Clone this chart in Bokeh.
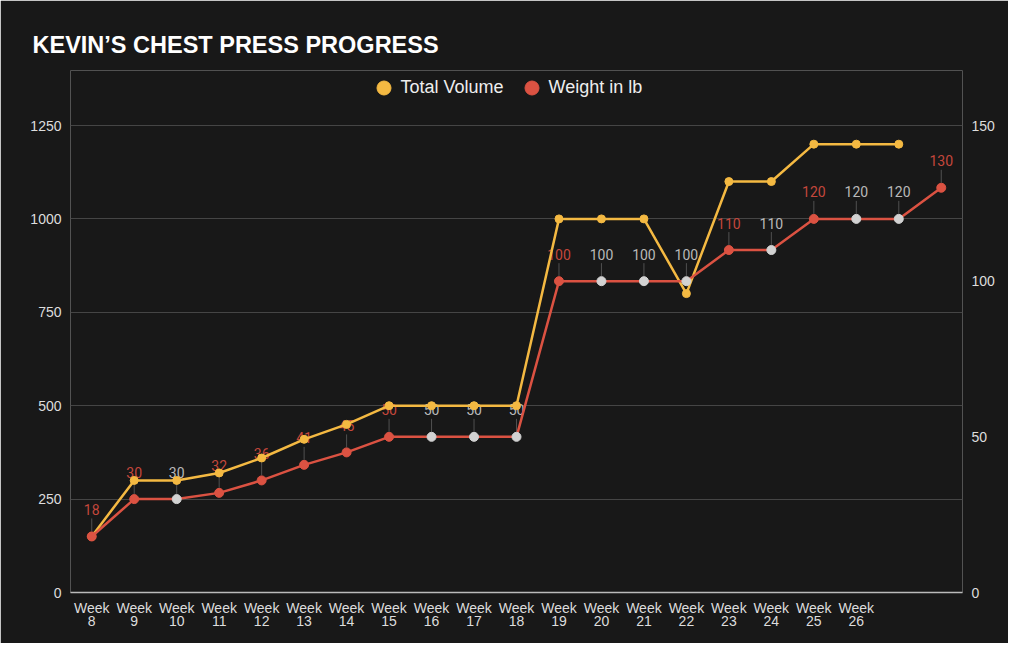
from bokeh.plotting import figure
from bokeh.models import (Range1d, LinearAxis, FixedTicker, Legend, LegendItem,
                          ColumnDataSource, FactorRange)
from bokeh.core.properties import value
from bokeh.embed import file_html
from bokeh.resources import INLINE

# ---------------- data ----------------
categories = ["Week\n8", "Week\n9", "Week\n10", "Week\n11", "Week\n12", "Week\n13", "Week\n14",
              "Week\n15", "Week\n16", "Week\n17", "Week\n18", "Week\n19", "Week\n20", "Week\n21",
              "Week\n22", "Week\n23", "Week\n24", "Week\n25", "Week\n26", " ", "  "]
total_volume = [150, 300, 300, 320, 360, 410, 450, 500, 500, 500, 500,
                1000, 1000, 1000, 800, 1100, 1100, 1200, 1200, 1200, None]
weight_lb = [18, 30, 30, 32, 36, 41, 45, 50, 50, 50, 50,
             100, 100, 100, 100, 110, 110, 120, 120, 120, 130]
left_ticks = [0, 250, 500, 750, 1000, 1250]
right_ticks = [0, 50, 100, 150]
title_text = "KEVIN\u2019S CHEST PRESS PROGRESS"
series_names = ["Total Volume", "Weight in lb"]

# ---------------- style ----------------
BG = "#181818"
YELLOW = "#F4B942"
RED = "#DB5242"
RED_LABEL = "#C4473C"
GREY_PT = "#D2D2D2"
GREY_LABEL = "#B8B8B8"
TXT = "#DDDDDD"
FONT = "Liberation Sans"

W, H = 1008, 643
ML, MR, MT, MB = 70, 46, 70, 51
PLOT_TOP = 125          # pixel row of the top gridline (1250 / 150)
frame_h = H - MT - MB    # frame includes the legend strip above the data area
data_h = H - PLOT_TOP - MB
stretch = frame_h / data_h

p = figure(width=W, height=H, x_range=FactorRange(*categories),
           y_range=Range1d(0, left_ticks[-1] * stretch), output_backend="svg",
           toolbar_location=None,
           min_border_left=ML, min_border_right=MR, min_border_top=MT, min_border_bottom=MB,
           background_fill_color=BG, border_fill_color=BG, outline_line_color=None,
           title=title_text)
p.x_range.range_padding = 0
p.extra_y_ranges = {"right": Range1d(0, right_ticks[-1] * stretch)}

p.title.text_color = "#FFFFFF"
p.title.text_font = FONT
p.title.text_font_style = "bold"
p.title.text_font_size = "23.5px"
p.title.align = "left"
p.title.offset = -38
p.title.standoff = 25

p.yaxis.ticker = FixedTicker(ticks=left_ticks)
lax = p.yaxis[0]
rax = LinearAxis(y_range_name="right", ticker=FixedTicker(ticks=right_ticks))
p.add_layout(rax, "right")
for ax in (lax, rax):
    ax.axis_line_color = None
    ax.major_tick_line_color = None
    ax.minor_tick_line_color = None
    ax.major_label_text_color = TXT
    ax.major_label_text_font = FONT
    ax.major_label_text_font_size = "14px"
    ax.major_label_standoff = 3

xa = p.xaxis[0]
xa.axis_line_color = "#BBBBBB"
xa.axis_line_width = 1.5
xa.major_tick_line_color = None
xa.minor_tick_line_color = None
xa.major_label_text_color = TXT
xa.major_label_text_font = FONT
xa.major_label_text_font_size = "14px"
xa.major_label_text_line_height = 0.82
xa.major_label_standoff = 1

p.xgrid.grid_line_color = None
p.ygrid.grid_line_color = "#454545"
p.ygrid.grid_line_width = 1

repeat = [i > 0 and weight_lb[i] == weight_lb[i - 1] for i in range(len(weight_lb))]
ppu = data_h / right_ticks[-1]
src_w = ColumnDataSource(dict(
    x=categories, w=weight_lb,
    lbl=[str(v) for v in weight_lb],
    pc=[GREY_PT if r else RED for r in repeat],
    lc=[GREY_LABEL if r else RED_LABEL for r in repeat],
    y0=[v + 5 / ppu for v in weight_lb],
    y1=[v + 18 / ppu for v in weight_lb],
))
tv_x = [c for c, v in zip(categories, total_volume) if v is not None]
tv_y = [v for v in total_volume if v is not None]
src_v = ColumnDataSource(dict(x=tv_x, v=tv_y))

p.segment(x0="x", y0="y0", x1="x", y1="y1", source=src_w, y_range_name="right",
          line_color="#505050", line_width=1)
p.text(x="x", y="w", text="lbl", source=src_w, y_range_name="right",
       text_color="lc", text_align="center", text_baseline="middle", y_offset=-27,
       text_font=value("Roboto"), text_font_size="14px")

p.line(x="x", y="v", source=src_v, line_color=YELLOW, line_width=2.5)
r_tv = p.scatter(x="x", y="v", source=src_v, size=8, fill_color=YELLOW, line_color=YELLOW)

p.line(x="x", y="w", source=src_w, y_range_name="right", line_color=RED, line_width=2.5)
r_w = p.scatter(x="x", y="w", source=src_w, y_range_name="right", size=9,
                fill_color="pc", line_color="pc")

# legend inside the (stretched) frame, in the strip above the top gridline
legend = Legend(items=[LegendItem(label=series_names[0], renderers=[r_tv]),
                       LegendItem(label=series_names[1], renderers=[r_w])],
                orientation="horizontal", location=(365.5 - ML, (H - MB) - 104.5),
                glyph_width=35, glyph_height=35, label_standoff=0, spacing=10,
                padding=0, margin=0, border_line_color=None,
                background_fill_alpha=0,
                label_text_color="#EEEEEE", label_text_font=FONT,
                label_text_font_size="18px")
p.add_layout(legend, "center")

html = file_html(p, INLINE).replace("<body>", '<body style="background-color:#181818">', 1)
open("out.html", "w").write(html)
